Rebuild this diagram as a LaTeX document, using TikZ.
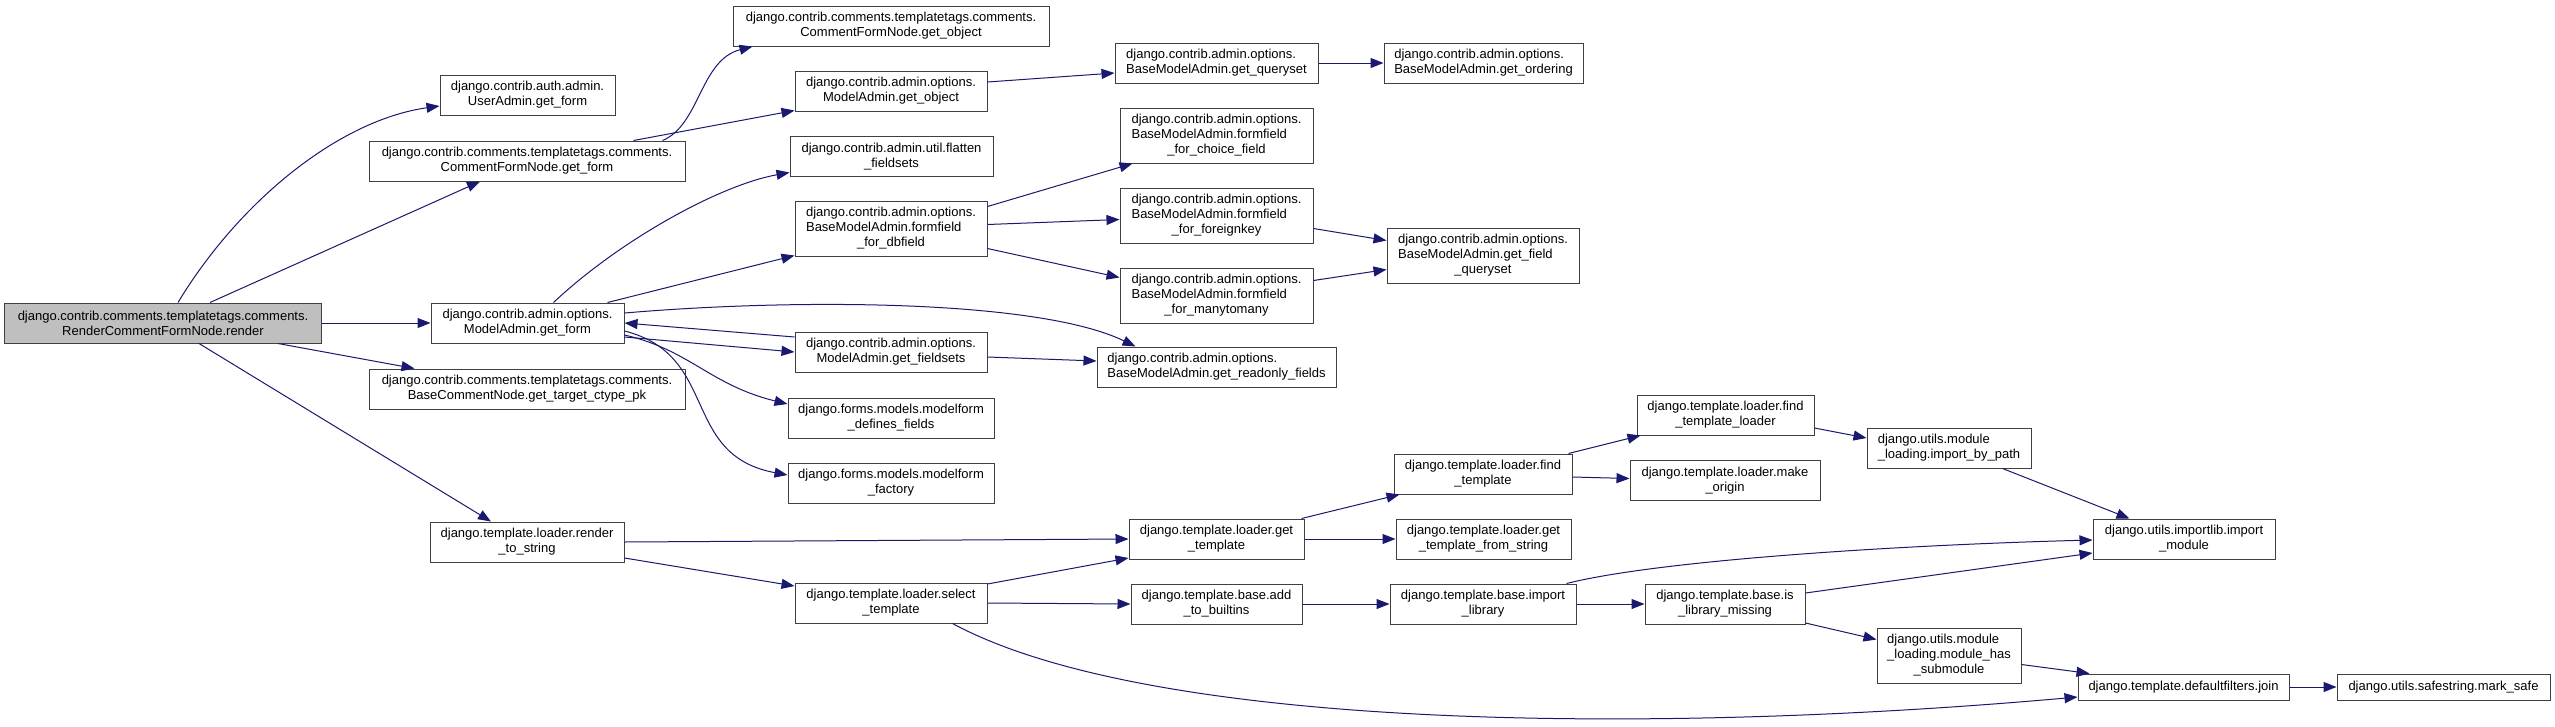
\documentclass[tikz,border=0pt]{standalone}
\usepackage{fontspec}
\setmainfont{Liberation Sans}
\usetikzlibrary{arrows.meta}
\definecolor{edgeblue}{HTML}{191970}
\definecolor{rootgray}{HTML}{BFBFBF}
\tikzset{
    fnbox/.style={rectangle, draw=black!75, fill=white, line width=1pt, inner sep=0pt, align=center, minimum height=40pt, font=\fontsize{13}{15}\selectfont},
    fnleft/.style={fnbox, align=left},
    rootbox/.style={fnbox, fill=rootgray},
    arrow/.style={-{Triangle[length=13pt, width=10pt]}, line width=1pt, draw=edgeblue}
}
\begin{document}
\begin{tikzpicture}[x=1pt, y=-1pt]
    \useasboundingbox[fill=white] (0,0) rectangle (2555,726);
    \node[rootbox, minimum width=317pt] (render) at (163,323) {django.contrib.comments.templatetags.comments.\\RenderCommentFormNode.render};
    \node[fnbox, minimum width=175pt] (useradmin) at (527.5,95) {django.contrib.auth.admin.\\UserAdmin.get\_form};
    \node[fnbox, minimum width=316pt] (cfnform) at (527,161) {django.contrib.comments.templatetags.comments.\\CommentFormNode.get\_form};
    \node[fnbox, minimum width=193pt] (madmform) at (527.5,323) {django.contrib.admin.options.\\ModelAdmin.get\_form};
    \node[fnbox, minimum width=316pt] (ctype) at (527,389) {django.contrib.comments.templatetags.comments.\\BaseCommentNode.get\_target\_ctype\_pk};
    \node[fnbox, minimum width=194pt] (rtstring) at (527,542) {django.template.loader.render\\\_to\_string};
    \node[fnbox, minimum width=316pt] (cfnobject) at (891,26) {django.contrib.comments.templatetags.comments.\\CommentFormNode.get\_object};
    \node[fnbox, minimum width=192pt] (maobject) at (891,91) {django.contrib.admin.options.\\ModelAdmin.get\_object};
    \node[fnbox, minimum width=203pt] (flatten) at (891.5,156.5) {django.contrib.admin.util.flatten\\\_fieldsets};
    \node[fnbox, minimum width=192pt, minimum height=55pt] (dbfield) at (891,228.5) {\begin{tabular}{@{}l@{}}django.contrib.admin.options.\\BaseModelAdmin.formfield\\\multicolumn{1}{@{}c@{}}{\_for\_dbfield}\end{tabular}};
    \node[fnbox, minimum width=192pt] (fieldsets) at (891,352) {django.contrib.admin.options.\\ModelAdmin.get\_fieldsets};
    \node[fnbox, minimum width=206pt] (definesfields) at (891,418) {django.forms.models.modelform\\\_defines\_fields};
    \node[fnbox, minimum width=206pt] (mffactory) at (891,483) {django.forms.models.modelform\\\_factory};
    \node[fnbox, minimum width=192pt] (selecttpl) at (891,603) {django.template.loader.select\\\_template};
    \node[fnleft, minimum width=203pt] (queryset) at (1216.5,63) {django.contrib.admin.options.\\BaseModelAdmin.get\_queryset};
    \node[fnbox, minimum width=193pt, minimum height=55pt] (choicefield) at (1216.5,135.5) {\begin{tabular}{@{}l@{}}django.contrib.admin.options.\\BaseModelAdmin.formfield\\\multicolumn{1}{@{}c@{}}{\_for\_choice\_field}\end{tabular}};
    \node[fnbox, minimum width=193pt, minimum height=55pt] (foreignkey) at (1216.5,215.5) {\begin{tabular}{@{}l@{}}django.contrib.admin.options.\\BaseModelAdmin.formfield\\\multicolumn{1}{@{}c@{}}{\_for\_foreignkey}\end{tabular}};
    \node[fnbox, minimum width=193pt, minimum height=55pt] (manytomany) at (1216.5,295.5) {\begin{tabular}{@{}l@{}}django.contrib.admin.options.\\BaseModelAdmin.formfield\\\multicolumn{1}{@{}c@{}}{\_for\_manytomany}\end{tabular}};
    \node[fnleft, minimum width=239pt] (readonly) at (1216.5,367) {django.contrib.admin.options.\\BaseModelAdmin.get\_readonly\_fields};
    \node[fnbox, minimum width=175pt] (gettpl) at (1216.5,539) {django.template.loader.get\\\_template};
    \node[fnbox, minimum width=171pt] (addbuiltins) at (1216.5,604) {django.template.base.add\\\_to\_builtins};
    \node[fnleft, minimum width=199pt] (ordering) at (1483.5,63) {django.contrib.admin.options.\\BaseModelAdmin.get\_ordering};
    \node[fnbox, minimum width=192pt, minimum height=55pt] (fieldqs) at (1483,255.5) {\begin{tabular}{@{}l@{}}django.contrib.admin.options.\\BaseModelAdmin.get\_field\\\multicolumn{1}{@{}c@{}}{\_queryset}\end{tabular}};
    \node[fnbox, minimum width=178pt] (findtpl) at (1483,474) {django.template.loader.find\\\_template};
    \node[fnbox, minimum width=175pt] (tplfromstr) at (1483.5,539) {django.template.loader.get\\\_template\_from\_string};
    \node[fnbox, minimum width=186pt] (implib) at (1483,604) {django.template.base.import\\\_library};
    \node[fnbox, minimum width=177pt] (findloader) at (1725.5,415) {django.template.loader.find\\\_template\_loader};
    \node[fnbox, minimum width=190pt] (makeorigin) at (1725,480.5) {django.template.loader.make\\\_origin};
    \node[fnbox, minimum width=160pt] (libmissing) at (1725,604) {django.template.base.is\\\_library\_missing};
    \node[fnleft, minimum width=164pt] (importbypath) at (1949,448) {django.utils.module\\\_loading.import\_by\_path};
    \node[fnbox, minimum width=144pt, minimum height=55pt] (hassubmodule) at (1949,655.5) {\begin{tabular}{@{}l@{}}django.utils.module\\\_loading.module\_has\\\multicolumn{1}{@{}c@{}}{\_submodule}\end{tabular}};
    \node[fnbox, minimum width=182pt] (importmodule) at (2184,539) {django.utils.importlib.import\\\_module};
    \node[fnbox, minimum width=211pt, minimum height=26pt] (join) at (2183.5,687) {django.template.defaultfilters.join};
    \node[fnbox, minimum width=213pt, minimum height=26pt] (marksafe) at (2443.5,687) {django.utils.safestring.mark\_safe};

    \draw[arrow] ([xshift=15pt]render.north) .. controls (240,200) and (340,120) .. ([yshift=-11pt]useradmin.west);
    \draw[arrow] ([xshift=47pt]render.north) -- ([xshift=-47pt]cfnform.south);
    \draw[arrow] (render.east) -- (madmform.west);
    \draw[arrow] ([xshift=-44pt]render.south east) -- ([xshift=46pt]ctype.north west);
    \draw[arrow] ([xshift=36pt]render.south) -- ([xshift=-36pt]rtstring.north);
    \draw[arrow] ([xshift=-23pt]cfnform.north east) .. controls (700,125) and (700,60) .. ([xshift=20pt]cfnobject.south west);
    \draw[arrow] ([xshift=-52pt]cfnform.north east) -- ([yshift=1pt]maobject.south west);
    \draw[arrow] ([yshift=9pt]maobject.east) -- ([yshift=-10pt]queryset.west);
    \draw[arrow] (queryset.east) -- (ordering.west);
    \draw[arrow] ([xshift=26pt]madmform.north) .. controls (620,240) and (720,185) .. ([yshift=-16pt]flatten.west);
    \draw[arrow] ([xshift=-17pt]madmform.north east) -- ([yshift=1pt]dbfield.south west);
    \draw[arrow] ([yshift=10pt]madmform.east) .. controls (800,298) and (1040,300) .. ([xshift=39pt]readonly.north west);
    \draw[arrow] ([yshift=15pt]fieldsets.west) -- (madmform.east);
    \draw[arrow] ([yshift=-14pt]madmform.east) -- (fieldsets.west);
    \draw[arrow] ([yshift=-12pt]madmform.east) .. controls (690,350) and (710,385) .. ([yshift=14pt]definesfields.west);
    \draw[arrow] ([yshift=-8pt]madmform.east) .. controls (720,355) and (680,455) .. ([yshift=8pt]mffactory.west);
    \draw[arrow] ([yshift=22pt]dbfield.east) -- ([xshift=13pt]choicefield.south west);
    \draw[arrow] ([yshift=4pt]dbfield.east) -- ([yshift=-4pt]foreignkey.west);
    \draw[arrow] ([yshift=-20pt]dbfield.east) -- ([yshift=18pt]manytomany.west);
    \draw[arrow] ([yshift=-13pt]foreignkey.east) -- ([yshift=15pt]fieldqs.west);
    \draw[arrow] ([yshift=15pt]manytomany.east) -- ([yshift=-14pt]fieldqs.west);
    \draw[arrow] ([yshift=-5pt]fieldsets.east) -- ([yshift=6pt]readonly.west);
    \draw[arrow] (rtstring.east) -- (gettpl.west);
    \draw[arrow] ([yshift=-16pt]rtstring.east) -- ([yshift=17pt]selecttpl.west);
    \draw[arrow] ([yshift=19pt]selecttpl.east) -- ([yshift=-19pt]gettpl.west);
    \draw[arrow] (selecttpl.east) -- (addbuiltins.west);
    \draw[arrow] ([xshift=-35pt]selecttpl.south east) .. controls (1150,730) and (1650,735) .. ([yshift=-10pt]join.west);
    \draw[arrow] ([xshift=-3pt]gettpl.north east) -- ([xshift=6pt]findtpl.south west);
    \draw[arrow] (gettpl.east) -- (tplfromstr.west);
    \draw[arrow] ([xshift=-4pt]findtpl.north east) -- ([xshift=4pt]findloader.south west);
    \draw[arrow] ([yshift=-3pt]findtpl.east) -- ([yshift=2pt]makeorigin.west);
    \draw[arrow] ([yshift=-13pt]findloader.east) -- ([yshift=10pt]importbypath.west);
    \draw[arrow] ([xshift=-29pt]importbypath.south east) -- ([xshift=37pt]importmodule.north west);
    \draw[arrow] (addbuiltins.east) -- (implib.west);
    \draw[arrow] (implib.east) -- (libmissing.west);
    \draw[arrow] ([xshift=-10pt]implib.north east) .. controls (1660,560) and (1900,545) .. ([yshift=-1pt]importmodule.west);
    \draw[arrow] ([yshift=11pt]libmissing.east) -- ([yshift=-14pt]importmodule.west);
    \draw[arrow] ([yshift=-19pt]libmissing.east) -- ([yshift=16pt]hassubmodule.west);
    \draw[arrow] ([yshift=-9pt]hassubmodule.east) -- ([xshift=12pt]join.north west);
    \draw[arrow] (join.east) -- (marksafe.west);
\end{tikzpicture}
\end{document}
